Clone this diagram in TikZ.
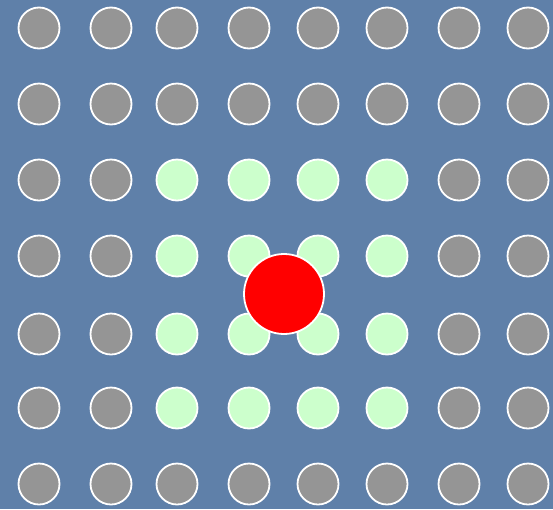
\documentclass[tikz,border=0pt]{standalone}
\begin{document}
\begin{tikzpicture}[x=1pt,y=-1pt,
  dot/.style={circle,draw=white,line width=1.8pt,minimum size=41pt,inner sep=0pt},
  graydot/.style={dot,fill=dotgray},
  greendot/.style={dot,fill=dotgreen},
  reddot/.style={circle,draw=white,line width=1.8pt,minimum size=80pt,inner sep=0pt,fill=red}]
\definecolor{bgblue}{HTML}{5F80A9}
\definecolor{dotgray}{HTML}{959595}
\definecolor{dotgreen}{HTML}{CCFFCC}
\fill[bgblue] (0,0) rectangle (553,509);
\useasboundingbox (0,0) rectangle (553,509);
\foreach \c/\x in {1/39,2/111,3/177,4/249,5/318,6/387,7/459,8/528}{
  \foreach \r/\y in {1/28,2/104,3/180,4/256,5/334,6/408,7/484}{
    \pgfmathtruncatemacro{\isgreen}{(\c>=3)&&(\c<=6)&&(\r>=3)&&(\r<=6)}
    \ifnum\isgreen=1
      \node[greendot] (d\c\r) at (\x,\y) {};
    \else
      \node[graydot] (d\c\r) at (\x,\y) {};
    \fi
  }
}
\node[reddot] (red) at (284,294) {};
\end{tikzpicture}
\end{document}
